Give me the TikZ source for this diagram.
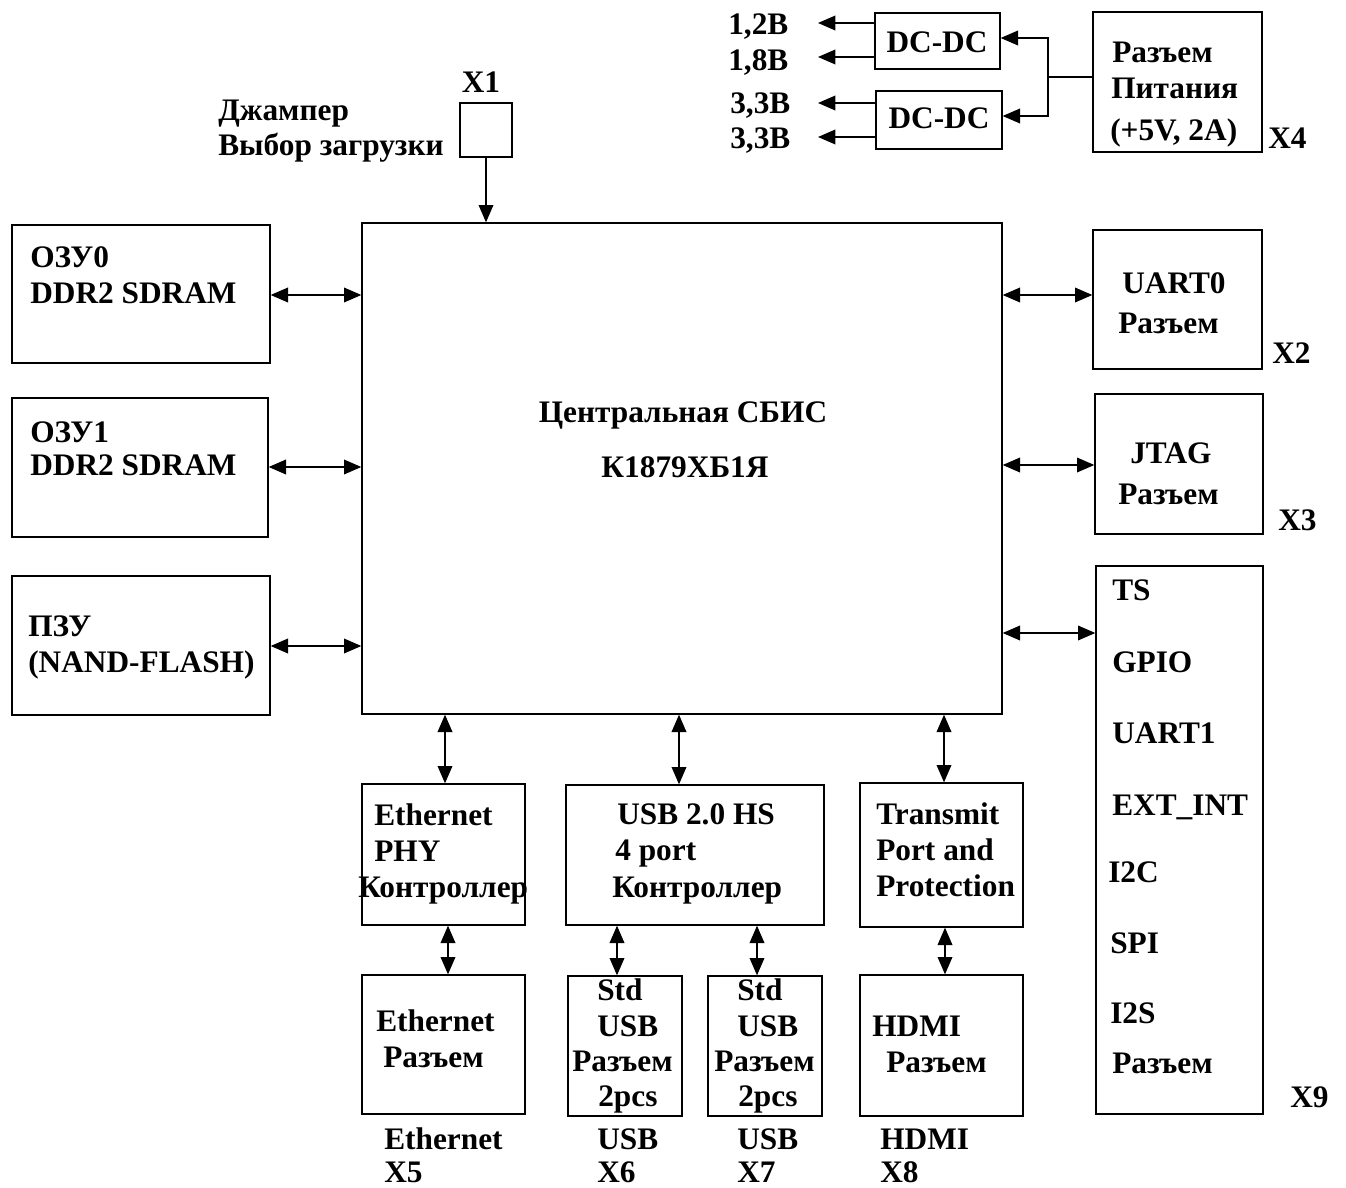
\documentclass[tikz,border=0pt]{standalone}
\usepackage{fontspec}
\setmainfont{Liberation Serif}
\usetikzlibrary{arrows.meta,fit}
\begin{document}
\begin{tikzpicture}[x=0.75pt,y=-0.75pt,
  box/.style={draw,line width=1pt,inner sep=0pt,fit={#1}},
  tw/.style={font=\bfseries\fontsize{23.5}{27}\selectfont,inner sep=0pt,anchor=mid west,yshift=-5.5pt},
  tc/.style={font=\bfseries\fontsize{23.5}{27}\selectfont,inner sep=0pt,anchor=mid,yshift=-5.5pt},
  con/.style={line width=1pt,{Triangle[length=13pt,width=11pt]}-{Triangle[length=13pt,width=11pt]}},
  one/.style={line width=1pt,-{Triangle[length=13pt,width=11pt]}},
  pl/.style={line width=1pt}]
\fill[white] (0,0) rectangle (1346,1188);
\useasboundingbox (0,0) rectangle (1346,1188);

% boxes
\node[box={(362,223) (1002,714)}] (cpu) {};
\node[box={(12,225) (270,363)}] (ozu0) {};
\node[box={(12,398) (268,537)}] (ozu1) {};
\node[box={(12,576) (270,715)}] (pzu) {};
\node[box={(460,103) (512,157)}] (x1) {};
\node[box={(875,13) (1000,69)}] (dc1) {};
\node[box={(876,91) (1002,149)}] (dc2) {};
\node[box={(1093,12) (1262,152)}] (pwr) {};
\node[box={(1093,230) (1262,369)}] (uart) {};
\node[box={(1095,394) (1263,534)}] (jtag) {};
\node[box={(1096,566) (1263,1114)}] (x9) {};
\node[box={(362,784) (525,925)}] (eth) {};
\node[box={(566,785) (824,925)}] (usb) {};
\node[box={(860,783) (1023,927)}] (tx) {};
\node[box={(362,975) (525,1114)}] (ethc) {};
\node[box={(568,976) (682,1116)}] (usb1) {};
\node[box={(708,976) (822,1116)}] (usb2) {};
\node[box={(860,975) (1023,1116)}] (hdmi) {};

% texts
\node[tc] (t1) at (683,412) {Центральная СБИС};
\node[tc] (t2) at (685,467) {К1879ХБ1Я};
\node[tw] (t3) at (30,257) {ОЗУ0};
\node[tw] (t4) at (30,293) {DDR2 SDRAM};
\node[tw] (t5) at (30,432) {ОЗУ1};
\node[tw] (t6) at (30,465) {DDR2 SDRAM};
\node[tw] (t7) at (28,626) {ПЗУ};
\node[tw] (t8) at (28,662) {(NAND-FLASH)};
\node[tw] (t9) at (218,110) {Джампер};
\node[tw] (t10) at (218,145) {Выбор загрузки};
\node[tc] (t11) at (481,82) {X1};
\node[tw] (t12) at (728,24) {1,2В};
\node[tw] (t13) at (728,60) {1,8В};
\node[tw] (t14) at (730,103) {3,3В};
\node[tw] (t15) at (730,138) {3,3В};
\node[tc] (t16) at (937,42) {DC-DC};
\node[tc] (t17) at (939,118) {DC-DC};
\node[tw] (t18) at (1112,52) {Разъем};
\node[tw] (t19) at (1111,88) {Питания};
\node[tw] (t20) at (1110,130) {(+5V, 2A)};
\node[tw] (t21) at (1268,138) {X4};
\node[tw] (t22) at (1122,283) {UART0};
\node[tw] (t23) at (1118,323) {Разъем};
\node[tw] (t24) at (1272,353) {X2};
\node[tw] (t25) at (1130,453) {JTAG};
\node[tw] (t26) at (1118,494) {Разъем};
\node[tw] (t27) at (1278,520) {X3};
\node[tw] (t28) at (1112,590) {TS};
\node[tw] (t29) at (1112,662) {GPIO};
\node[tw] (t30) at (1112,733) {UART1};
\node[tw] (t31) at (1112,805) {EXT\_INT};
\node[tw] (t32) at (1108,872) {I2C};
\node[tw] (t33) at (1110,943) {SPI};
\node[tw] (t34) at (1110,1013) {I2S};
\node[tw] (t35) at (1112,1063) {Разъем};
\node[tw] (t36) at (1290,1097) {X9};
\node[tw] (t37) at (374,815) {Ethernet};
\node[tw] (t38) at (374,851) {PHY};
\node[tw] (t39) at (358,887) {Контроллер};
\node[tw] (t40) at (617,814) {USB 2.0 HS};
\node[tw] (t41) at (615,850) {4 port};
\node[tw] (t42) at (612,887) {Контроллер};
\node[tw] (t43) at (876,814) {Transmit};
\node[tw] (t44) at (876,850) {Port and};
\node[tw] (t45) at (876,886) {Protection};
\node[tw] (t46) at (376,1021) {Ethernet};
\node[tw] (t47) at (383,1057) {Разъем};
\node[tw] (t48) at (597,990) {Std};
\node[tw] (t49) at (597,1026) {USB};
\node[tw] (t50) at (572,1061) {Разъем};
\node[tw] (t51) at (598,1096) {2pcs};
\node[tw] (t52) at (737,990) {Std};
\node[tw] (t53) at (737,1026) {USB};
\node[tw] (t54) at (714,1061) {Разъем};
\node[tw] (t55) at (738,1096) {2pcs};
\node[tw] (t56) at (872,1026) {HDMI};
\node[tw] (t57) at (886,1062) {Разъем};
\node[tw] (t58) at (384,1139) {Ethernet};
\node[tw] (t59) at (384,1172) {X5};
\node[tw] (t60) at (597,1139) {USB};
\node[tw] (t61) at (597,1172) {X6};
\node[tw] (t62) at (737,1139) {USB};
\node[tw] (t63) at (737,1172) {X7};
\node[tw] (t64) at (880,1139) {HDMI};
\node[tw] (t65) at (880,1172) {X8};

% connectors
\draw[con] (ozu0.east |- 0,295) -- (cpu.west |- 0,295);
\draw[con] (ozu1.east |- 0,467) -- (cpu.west |- 0,467);
\draw[con] (pzu.east |- 0,646) -- (cpu.west |- 0,646);
\draw[con] (cpu.east |- 0,295) -- (uart.west |- 0,295);
\draw[con] (cpu.east |- 0,465) -- (jtag.west |- 0,465);
\draw[con] (cpu.east |- 0,633) -- (x9.west |- 0,633);
\draw[con] (cpu.south -| 445,0) -- (eth.north -| 445,0);
\draw[con] (cpu.south -| 679,0) -- (usb.north -| 679,0);
\draw[con] (cpu.south -| 944,0) -- (tx.north -| 944,0);
\draw[con] (eth.south -| 448,0) -- (ethc.north -| 448,0);
\draw[con] (usb.south -| 617,0) -- (usb1.north -| 617,0);
\draw[con] (usb.south -| 757,0) -- (usb2.north -| 757,0);
\draw[con] (tx.south -| 945,0) -- (hdmi.north -| 945,0);
\draw[one] (x1.south -| 486,0) -- (cpu.north -| 486,0);

% power
\coordinate (jn) at (1048,77);
\coordinate (o1) at (818,23);
\coordinate (o2) at (818,57);
\coordinate (o3) at (818,103);
\coordinate (o4) at (818,137);
\draw[pl] (pwr.west |- jn) -- (jn);
\draw[one] (jn) |- (dc1.east |- 0,38);
\draw[one] (jn) |- (dc2.east |- 0,116);
\draw[one] (dc1.west |- o1) -- (o1);
\draw[one] (dc1.west |- o2) -- (o2);
\draw[one] (dc2.west |- o3) -- (o3);
\draw[one] (dc2.west |- o4) -- (o4);
\end{tikzpicture}
\end{document}
